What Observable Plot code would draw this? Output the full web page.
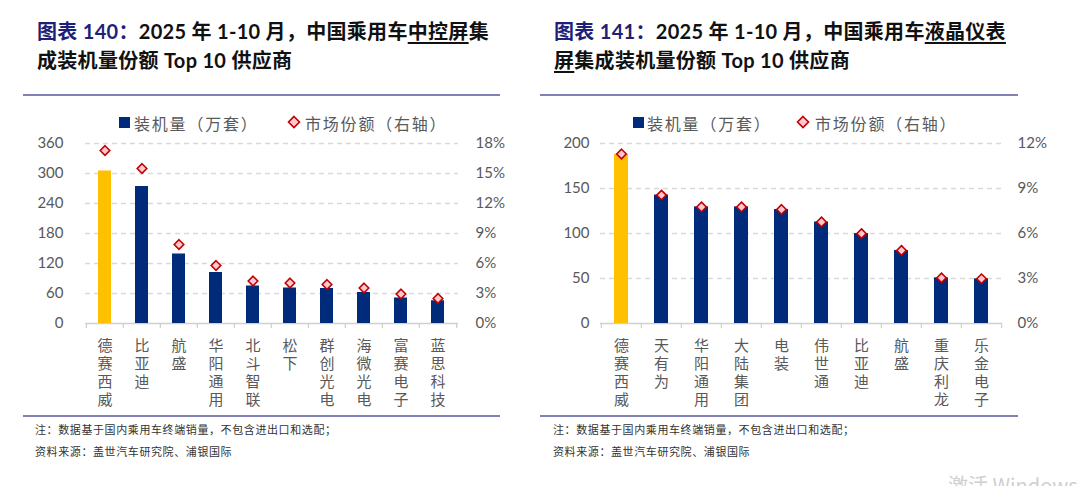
<!DOCTYPE html>
<html>
<head>
<meta charset="utf-8">
<script src="https://cdn.jsdelivr.net/npm/d3@7"></script>
<script src="https://cdn.jsdelivr.net/npm/@observablehq/plot@0.6"></script>
<style>
  body { margin: 0; background: #fff; }
  #page { position: relative; width: 1080px; height: 486px; overflow: hidden; background: #fff;
    font-family: Lato, "Noto Sans CJK SC", sans-serif; }
  .title { position: absolute; font-size: 20px; font-weight: bold; line-height: 29px; color: #111; letter-spacing: 0.3px; white-space: nowrap; }
  .title .num { color: #1f1f78; }
  .title u { text-underline-offset: 3px; text-decoration-thickness: 1.5px; }
  .rule { position: absolute; height: 0; border-top: 2px solid #8181b3; }
  .legend { position: absolute; top: 111px; font-size: 16px; color: #595959; letter-spacing: 1.8px; white-space: nowrap; font-family: "Noto Sans CJK SC", sans-serif; }
  .legend span { position: absolute; top: 0; }
  .sq { position: absolute; width: 11px; height: 11px; background: #002a7a; top: 6px; }
  .note { position: absolute; font-size: 11px; color: #333; letter-spacing: 0.6px; white-space: nowrap; font-family: "Noto Sans CJK SC", sans-serif; }
  .chart { position: absolute; top: 128px; }
  .wm { position: absolute; left: 948px; top: 470px; font-size: 20px; color: #cfcfcf; font-family: "Noto Sans CJK SC", sans-serif; white-space: nowrap; }
</style>
</head>
<body>
<div id="page">
  <div class="title" style="left:37px; top:17px;"><span class="num">图表 140：</span>2025 年 1-10 月，中国乘用车<u>中控屏</u>集<br>成装机量份额 Top 10 供应商</div>
  <div class="title" style="left:554px; top:17px;"><span class="num">图表 141：</span>2025 年 1-10 月，中国乘用车<u>液晶仪表</u><br><u>屏</u>集成装机量份额 Top 10 供应商</div>
  <div class="rule" style="left:23px; width:477px; top:94px;"></div>
  <div class="rule" style="left:540px; width:478px; top:94px;"></div>
  <div class="rule" style="left:23px; width:477px; top:415px;"></div>
  <div class="rule" style="left:540px; width:478px; top:415px;"></div>

  <div class="legend" style="left:0; width:540px;">
    <div class="sq" style="left:119px;"></div><span style="left:134px;">装机量（万套）</span>
    <svg style="position:absolute; left:287px; top:4px;" width="14" height="14"><path d="M7,1.5 L12.5,7 L7,12.5 L1.5,7 Z" fill="#ffc7ce" stroke="#c00000" stroke-width="1.6"/></svg>
    <span style="left:305px;">市场份额（右轴）</span>
  </div>
  <div class="legend" style="left:540px; width:540px;">
    <div class="sq" style="left:93px;"></div><span style="left:107px;">装机量（万套）</span>
    <svg style="position:absolute; left:256px; top:4px;" width="14" height="14"><path d="M7,1.5 L12.5,7 L7,12.5 L1.5,7 Z" fill="#ffc7ce" stroke="#c00000" stroke-width="1.6"/></svg>
    <span style="left:275px;">市场份额（右轴）</span>
  </div>

  <div id="left" class="chart" style="left:0;"></div>
  <div id="right" class="chart" style="left:540px;"></div>

  <div class="note" style="left:35px; top:421px;">注：数据基于国内乘用车终端销量，不包含进出口和选配；</div>
  <div class="note" style="left:35px; top:443px;">资料来源：盖世汽车研究院、浦银国际</div>
  <div class="note" style="left:553px; top:421px;">注：数据基于国内乘用车终端销量，不包含进出口和选配；</div>
  <div class="note" style="left:553px; top:443px;">资料来源：盖世汽车研究院、浦银国际</div>
  <div class="wm">激活 Windows</div>
</div>
<script>
// 中控屏
const leftNames = ["德赛西威","比亚迪","航盛","华阳通用","北斗智联","松下","群创光电","海微光电","富赛电子","蓝思科技"];
const leftUnits = [305, 274, 139, 102, 75, 71, 70, 62, 51, 45.5];
const leftShare = [17.3, 15.5, 7.9, 5.8, 4.25, 4.05, 3.9, 3.55, 2.95, 2.5];
const leftTicks = [0, 60, 120, 180, 240, 300, 360];
const leftShareMax = 18;

// 液晶仪表屏
const rightNames = ["德赛西威","天有为","华阳通用","大陆集团","电装","伟世通","比亚迪","航盛","重庆利龙","乐金电子"];
const rightUnits = [188, 142.7, 129.6, 129.6, 126.7, 112.8, 99.9, 81.2, 50.7, 49.6];
const rightShare = [11.3, 8.56, 7.77, 7.77, 7.6, 6.77, 5.99, 4.87, 3.04, 2.98];
const rightTicks = [0, 50, 100, 150, 200];
const rightShareMax = 12;

function drawPanel(id, names, units, shares, ticks, shareMax, m) {
  const width = 540, height = 285, marginTop = 15, marginBottom = 90;
  const yMax = ticks[ticks.length - 1];
  const k = yMax / shareMax;            // share -> left axis units
  const data = names.map((name, i) => ({name, units: units[i], share: shares[i], i}));
  const step = (width - m.left - m.right) / names.length;
  const tickLen = 5 * yMax / (height - marginTop - marginBottom);

  const chart = Plot.plot({
    width, height, marginTop, marginBottom,
    marginLeft: m.left, marginRight: m.right,
    x: {domain: names, paddingInner: 0.64, paddingOuter: 0.32, label: null},
    y: {domain: [0, yMax], label: null},
    style: {fontFamily: 'Lato, "Noto Sans CJK SC", sans-serif', fontSize: "15px", color: "#595959", background: "transparent"},
    marks: [
      Plot.gridY(ticks.slice(1), {stroke: "#d9d9d9", strokeOpacity: 1, strokeWidth: 1.3, strokeDasharray: "5,4"}),
      Plot.ruleY([0], {stroke: "#d0d0d0", strokeWidth: 1.3}),
      Plot.ruleX(names, {x: d => d, dx: -step / 2, y1: 0, y2: -tickLen, stroke: "#d0d0d0", strokeWidth: 1.3}),
      Plot.ruleX(names.slice(-1), {x: d => d, dx: step / 2, y1: 0, y2: -tickLen, stroke: "#d0d0d0", strokeWidth: 1.3}),
      Plot.barY(data, {x: "name", y: "units", fill: d => d.i === 0 ? "#ffc000" : "#002a7a"}),
      Plot.dot(data, {x: "name", y: d => d.share * k, symbol: "diamond2", r: 4.3, fill: "#ffc7ce", stroke: "#c00000", strokeWidth: 1.6}),
      Plot.axisY(ticks, {anchor: "left", tickSize: 0, tickPadding: m.lp, label: null}),
      Plot.axisY(ticks, {anchor: "right", tickSize: 0, tickPadding: m.rp, label: null, tickFormat: d => (d / k) + "%"}),
      Plot.axisX({tickSize: 0, tickPadding: 14, label: null, lineHeight: 1.22,
        fontFamily: '"Noto Sans CJK SC", sans-serif', tickFormat: d => d.split("").join("\n")})
    ]
  });
  document.getElementById(id).append(chart);
}

drawPanel("left", leftNames, leftUnits, leftShare, leftTicks, leftShareMax, {left: 85, right: 82, lp: 22, rp: 17});
drawPanel("right", rightNames, rightUnits, rightShare, rightTicks, rightShareMax, {left: 60, right: 78, lp: 11, rp: 15});
</script>
</body>
</html>
